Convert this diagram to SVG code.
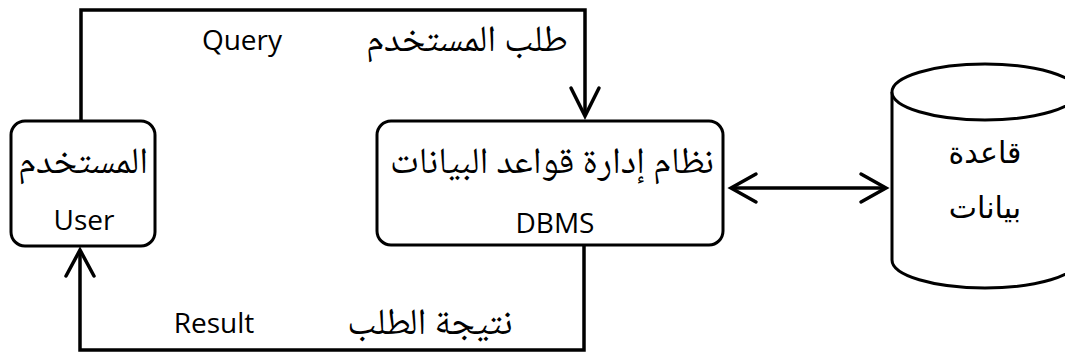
<svg xmlns="http://www.w3.org/2000/svg" width="1065" height="358" viewBox="0 0 1065 358">
<style>
.box{fill:#fff;stroke:#000;stroke-width:3}
.ln{fill:none;stroke:#000;stroke-width:3.5;stroke-linejoin:miter}
.ah{fill:none;stroke:#000;stroke-width:3.5;stroke-linecap:round;stroke-linejoin:miter}
.lat{font-family:"Open Sans","Liberation Sans",sans-serif;font-size:28px;fill:#000;text-anchor:middle}
.ar{font-family:"Noto Naskh Arabic","Noto Sans Arabic","DejaVu Sans",sans-serif;font-size:37px;fill:#000;text-anchor:middle}
.ars{font-family:"DejaVu Sans",sans-serif;font-size:30px;fill:#000;text-anchor:middle}
</style>
<rect width="1065" height="358" fill="#fff"/>
<g id="connectors">
<path class="ln" d="M81,121 V10 H585 V116"/>
<path class="ah" d="M571,88 L585,116 L599,88"/>
<text class="ar" x="467" y="51" direction="rtl">طلب المستخدم</text>
<text class="lat" x="242" y="50">Query</text>
<path class="ln" d="M584,245 V350 H80 V251"/>
<path class="ah" d="M66,276 L80,250 L94,276"/>
<text class="ar" x="430" y="334" direction="rtl">نتيجة الطلب</text>
<text class="lat" x="214" y="333">Result</text>
<path class="ln" d="M731,188 H886"/>
<path class="ah" d="M756,174 L731,188 L756,202"/>
<path class="ah" d="M861,174 L886,188 L861,202"/>
</g>
<g id="user">
<rect class="box" x="11" y="121" width="144" height="125" rx="14"/>
<text class="ar" x="83" y="173" direction="rtl">المستخدم</text>
<text class="lat" x="84" y="230">User</text>
</g>
<g id="dbms">
<rect class="box" x="377" y="121" width="346" height="124" rx="14"/>
<text class="ar" x="552" y="173" direction="rtl">نظام إدارة قواعد البيانات</text>
<text class="lat" x="555" y="233">DBMS</text>
</g>
<g id="database">
<path class="box" d="M892,92 V260 A93,28 0 0 0 1078,260 V92"/>
<ellipse class="box" cx="985" cy="92" rx="93" ry="28"/>
<text class="ars" x="985" y="163" direction="rtl">قاعدة</text>
<text class="ars" x="985" y="218" direction="rtl">بيانات</text>
</g>
</svg>
